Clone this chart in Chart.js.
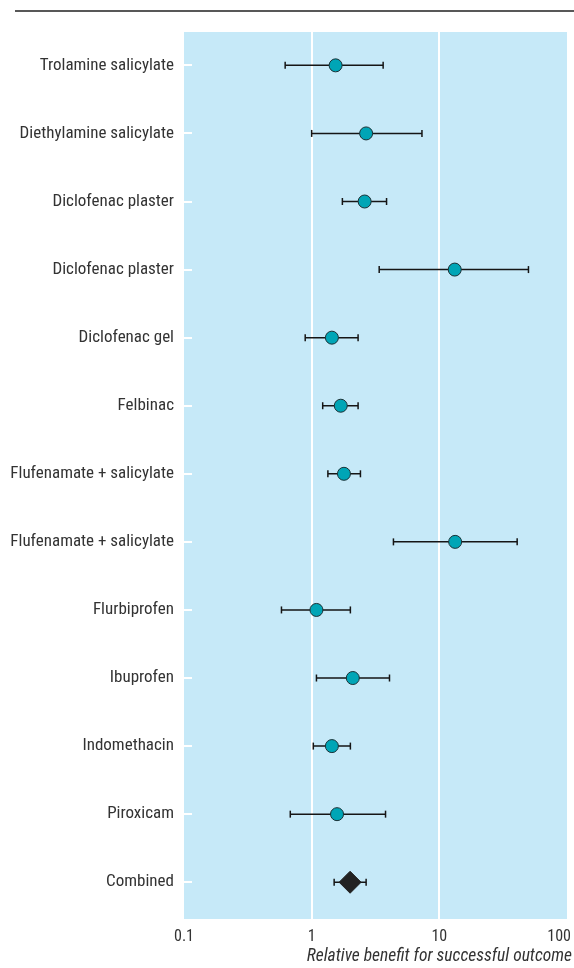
<!DOCTYPE html>
<html>
<head>
<meta charset="utf-8">
<script src="https://cdn.jsdelivr.net/npm/chart.js@4.4.1/dist/chart.umd.min.js"></script>
<style>
  html, body { margin: 0; padding: 0; background: #ffffff; overflow: hidden; }
  canvas { display: block; }
</style>
</head>
<body>
<canvas id="forest" width="574" height="968"></canvas>
<script>
// Topical NSAIDs: relative benefit (with 95% CI) per trial group and pooled
const treatments = [
  'Trolamine salicylate',
  'Diethylamine salicylate',
  'Diclofenac plaster',
  'Diclofenac plaster',
  'Diclofenac gel',
  'Felbinac',
  'Flufenamate + salicylate',
  'Flufenamate + salicylate',
  'Flurbiprofen',
  'Ibuprofen',
  'Indomethacin',
  'Piroxicam',
  'Combined'
];
const relativeBenefit = [1.54, 2.67, 2.60, 13.2, 1.44, 1.69, 1.79, 13.3, 1.09, 2.10, 1.44, 1.58, 2.00];
const ciLower         = [0.62, 1.00, 1.74, 3.38, 0.89, 1.22, 1.34, 4.37, 0.58, 1.09, 1.03, 0.68, 1.50];
const ciUpper         = [3.63, 7.31, 3.86, 49.9, 2.31, 2.31, 2.41, 40.7, 2.01, 4.07, 2.01, 3.79, 2.67];

const xTickValues = [0.1, 1, 10, 100];
const xTickLabels = ['0.1', '1', '10', '100'];
const axisTitle = 'Relative benefit for successful outcome';

const FONT = "'Roboto Condensed', 'Liberation Sans Narrow', sans-serif";
const TEXT = '#333333';

const pooledRow = treatments.indexOf('Combined');
const studyPoints = [];
treatments.forEach((t, i) => { if (i !== pooledRow) studyPoints.push({ x: relativeBenefit[i], y: i }); });
const pooledPoints = [{ x: relativeBenefit[pooledRow], y: pooledRow }];

// each interval is its own segment; NaN points break the line between rows
const ciSegments = [];
treatments.forEach((t, i) => {
  ciSegments.push({ x: ciLower[i], y: i }, { x: ciUpper[i], y: i }, { x: NaN, y: NaN });
});

const forestDecor = {
  id: 'forestDecor',
  beforeDraw(chart) {
    const { ctx, chartArea: a } = chart;
    ctx.save();
    // rule across the top
    ctx.fillStyle = '#585858';
    ctx.fillRect(15, 10, chart.width - 15, 2);
    // plot panel
    ctx.fillStyle = '#c6e9f8';
    ctx.fillRect(a.left, a.top, a.right - a.left, a.bottom - a.top);
    ctx.restore();
  },
  beforeDatasetsDraw(chart) {
    const { ctx, chartArea: a } = chart;
    const ys = chart.scales.y;
    ctx.save();
    ctx.strokeStyle = '#ffffff';
    ctx.lineWidth = 2;
    treatments.forEach((t, i) => {
      const py = Math.round(ys.getPixelForValue(i));
      ctx.beginPath();
      ctx.moveTo(a.left, py);
      ctx.lineTo(a.left + 8, py);
      ctx.stroke();
    });
    ctx.restore();
  },
  afterDraw(chart) {
    const { ctx, chartArea: a } = chart;
    const xs = chart.scales.x;
    ctx.save();
    ctx.fillStyle = TEXT;
    ctx.textBaseline = 'alphabetic';
    ctx.font = "16px " + FONT;
    ctx.textAlign = 'center';
    xTickValues.forEach((v, k) => {
      const label = xTickLabels[k];
      const w = ctx.measureText(label).width;
      let px = xs.getPixelForValue(v);
      px = Math.min(px, chart.width - 3 - w / 2);
      ctx.fillText(label, px, a.bottom + 22);
    });
    ctx.font = "italic 17.5px " + FONT;
    ctx.textAlign = 'right';
    ctx.fillText(axisTitle, chart.width - 2, a.bottom + 42);
    ctx.restore();
  }
};

new Chart(document.getElementById('forest'), {
  type: 'scatter',
  data: {
    datasets: [
      {
        label: 'Trials',
        data: studyPoints,
        pointStyle: 'circle',
        pointRadius: 6.5,
        pointHoverRadius: 6.5,
        pointBackgroundColor: '#00a5b6',
        pointBorderColor: '#1b3136',
        pointBorderWidth: 1
      },
      {
        label: 'Combined',
        data: pooledPoints,
        pointStyle: 'rectRot',
        pointRadius: 11,
        pointHoverRadius: 11,
        pointBackgroundColor: '#222222',
        pointBorderColor: '#222222',
        pointBorderWidth: 1
      },
      {
        label: '95% CI',
        type: 'line',
        data: ciSegments,
        showLine: true,
        spanGaps: false,
        borderColor: '#151515',
        borderWidth: 1.5,
        pointStyle: 'line',
        pointRotation: 90,
        pointRadius: 3.5,
        pointHoverRadius: 3.5,
        pointBorderColor: '#151515',
        pointBorderWidth: 1.5
      }
    ]
  },
  options: {
    responsive: false,
    animation: false,
    layout: { autoPadding: false, padding: { top: 32, right: 7, bottom: 0, left: 0 } },
    plugins: {
      legend: { display: false },
      tooltip: { enabled: false }
    },
    scales: {
      x: {
        type: 'logarithmic',
        min: 0.1,
        max: 100,
        afterBuildTicks(scale) { scale.ticks = xTickValues.map(v => ({ value: v, major: true })); },
        afterFit(scale) { scale.height = 49; },
        ticks: { display: false },
        border: { display: false },
        grid: {
          drawTicks: false,
          lineWidth: 2,
          color: ctx => (ctx.tick && (ctx.tick.value === 1 || ctx.tick.value === 10)) ? '#ffffff' : 'rgba(0,0,0,0)'
        }
      },
      y: {
        type: 'linear',
        reverse: true,
        min: -0.49,
        max: 12.54,
        afterBuildTicks(scale) { scale.ticks = treatments.map((t, i) => ({ value: i })); },
        afterFit(scale) { scale.width = 184; },
        border: { display: false },
        grid: { display: false, drawTicks: false },
        ticks: {
          padding: 10,
          color: TEXT,
          font: { family: FONT, size: 17 },
          callback: v => treatments[v]
        }
      }
    }
  },
  plugins: [forestDecor]
});
</script>
</body>
</html>
